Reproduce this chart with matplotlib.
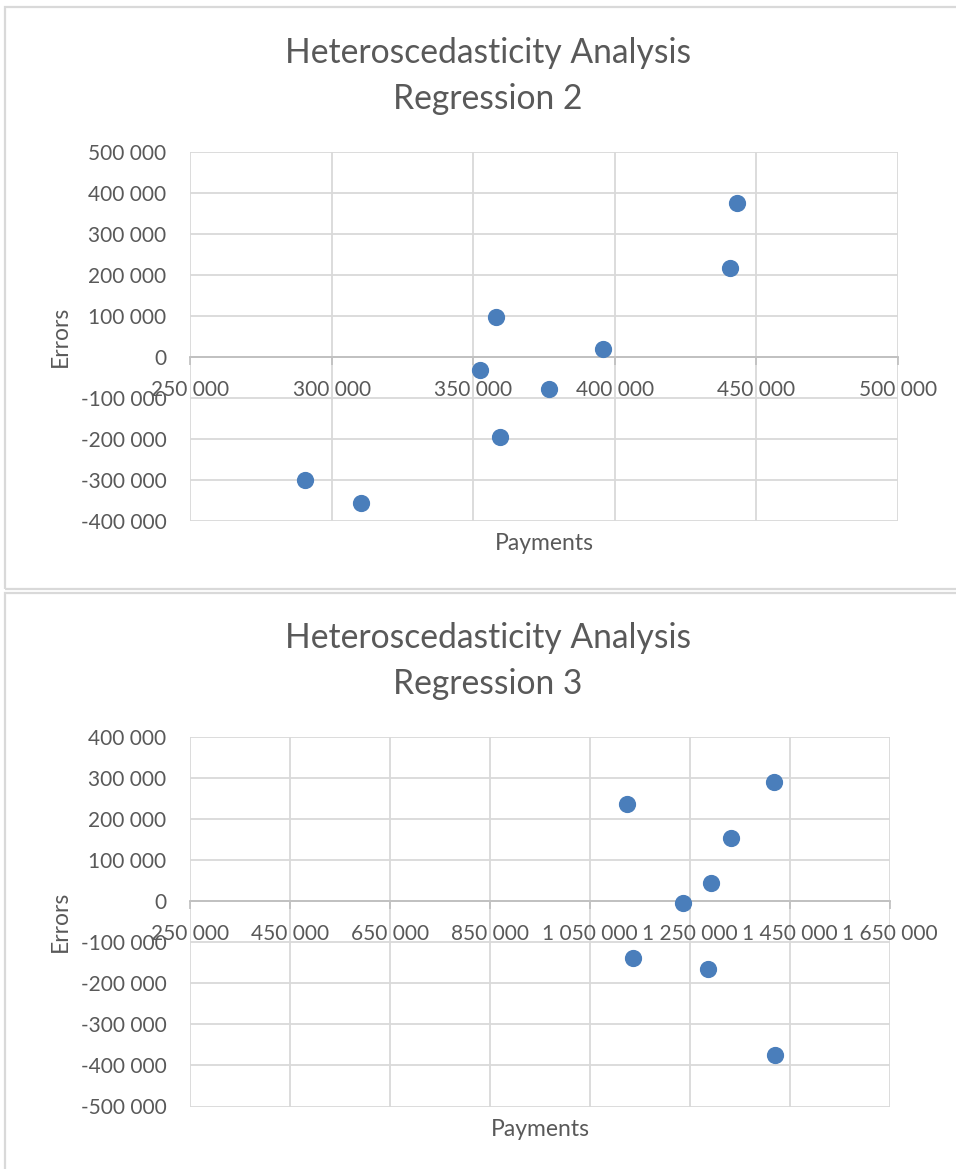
import matplotlib.pyplot as plt
from matplotlib.patches import Rectangle
from matplotlib.ticker import FuncFormatter

plt.rcParams['font.family'] = ['Lato', 'DejaVu Sans']

# Regression 2
pay2 = [290600, 310300, 352300, 358000, 359400, 376800, 396000, 440700, 443200]
err2 = [-300000, -357700, -33300, 97100, -195600, -79000, 18800, 216900, 376500]
xticks2 = list(range(250000, 500001, 50000))
yticks2 = list(range(-400000, 500001, 100000))

# Regression 3
pay3 = [1124600, 1135300, 1236000, 1286600, 1292000, 1332000, 1417300, 1420000]
err3 = [235700, -138400, -4900, -164500, 44000, 154000, 291000, -375500]
xticks3 = list(range(250000, 1650001, 200000))
yticks3 = list(range(-500000, 400001, 100000))

W, H = 956, 1169
txt = '#595959'
grid = '#d9d9d9'
axis_c = '#bfbfbf'
dot = '#4a7ebb'


def fmt(v, pos=None):
    return f"{v:,.0f}".replace(",", " ")


fig = plt.figure(figsize=(W / 100, H / 100), dpi=100)

# chart panel borders
fig.patches.append(Rectangle((5 / W, 1 - 589 / H), 1.0, (589 - 7) / H, transform=fig.transFigure,
                             fill=False, edgecolor=grid, lw=1.6))
fig.patches.append(Rectangle((5 / W, -0.1), 1.0, 0.1 + 1 - 593 / H, transform=fig.transFigure,
                             fill=False, edgecolor=grid, lw=1.6))


def make_chart(rect, xs, ys, xticks, yticks, name, title_y):
    ax = fig.add_axes(rect)
    wpx, hpx = rect[2] * W, rect[3] * H
    ax.scatter(xs, ys, s=130, color=dot, edgecolors=dot, zorder=3)
    ax.set_xlim(xticks[0], xticks[-1])
    ax.set_ylim(yticks[0], yticks[-1])
    ax.set_xticks(xticks)
    ax.set_yticks(yticks)
    ax.xaxis.set_major_formatter(FuncFormatter(fmt))
    ax.yaxis.set_major_formatter(FuncFormatter(fmt))
    ax.grid(True, color=grid, lw=1.3, zorder=0)
    ax.set_axisbelow(True)
    for s in ['top', 'right', 'left']:
        ax.spines[s].set_visible(False)
    ax.spines['bottom'].set_position(('data', 0))
    ax.spines['bottom'].set_color(axis_c)
    ax.spines['bottom'].set_linewidth(1.3)
    ax.spines['bottom'].set_zorder(1)
    ax.tick_params(axis='x', length=5.5, width=1.2, color=axis_c, pad=11,
                   labelsize=15, labelcolor=txt)
    ax.tick_params(axis='y', length=0, pad=17, labelsize=15, labelcolor=txt)
    ax.set_xlabel('Payments', fontsize=16.5, color=txt)
    ax.xaxis.set_label_coords(0.5, -12 / hpx)
    ax.set_ylabel('Errors', fontsize=16.5, color=txt)
    ax.yaxis.set_label_coords(-119 / wpx, 0.5)
    fig.text(488 / W, 1 - title_y / H, 'Heteroscedasticity Analysis', ha='center', va='center',
             fontsize=24.2, color=txt)
    fig.text(488 / W, 1 - (title_y + 46) / H, name, ha='center', va='center',
             fontsize=24.2, color=txt)
    return ax


make_chart([190 / W, 1 - 520.7 / H, 708 / W, (520.7 - 152) / H],
           pay2, err2, xticks2, yticks2, 'Regression 2', 53)
make_chart([190 / W, 1 - 1106.5 / H, 700 / W, (1106.5 - 737) / H],
           pay3, err3, xticks3, yticks3, 'Regression 3', 638)

fig.savefig('out.png', dpi=100)
